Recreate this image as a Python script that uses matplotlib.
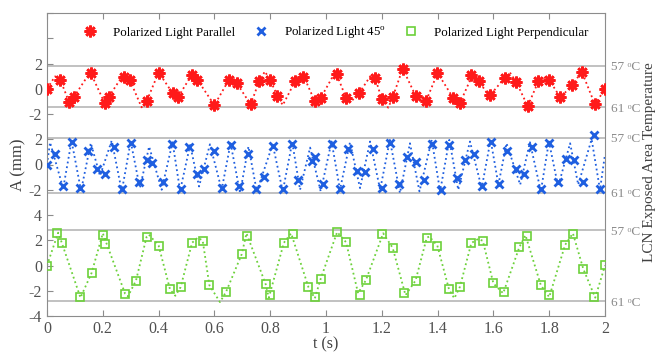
import numpy as np
import matplotlib
matplotlib.use("Agg")
import matplotlib.pyplot as plt

plt.rcParams['font.family'] = ['Liberation Serif', 'DejaVu Serif']
plt.rcParams['mathtext.fontset'] = 'custom'
plt.rcParams['mathtext.rm'] = 'Liberation Serif'

# offsets of the three stacked traces on the shared axis
off_par, off_45, off_perp = 14, 8, 0

# measured points (markers)
t_par = [0, 0.048, 0.078, 0.097, 0.157, 0.207, 0.221, 0.277, 0.297, 0.358, 0.400, 0.450, 0.471,
         0.519, 0.539, 0.600, 0.652, 0.680, 0.730, 0.760, 0.799, 0.826, 0.889, 0.919, 0.959, 0.981,
         1.038, 1.072, 1.119, 1.177, 1.200, 1.239, 1.275, 1.321, 1.359, 1.399, 1.456, 1.480, 1.521,
         1.547, 1.588, 1.640, 1.682, 1.723, 1.761, 1.800, 1.839, 1.881, 1.917, 1.964, 2.0]
a_par = [0, 0.69, -1.03, -0.63, 1.24, -1.10, -0.66, 0.92, 0.69, -0.95, 1.21, -0.34, -0.63,
         1.11, 0.71, -1.26, 0.71, 0.45, -1.21, 0.58, 0.71, -0.55, 0.58, 0.95, -0.95, -0.73,
         1.16, -0.73, -0.34, 0.82, -0.84, -0.68, 1.55, -0.55, -0.95, 1.21, -0.73, -1.10, 1.05,
         0.63, -0.53, 0.85, 0.53, -1.34, 0.58, 0.71, -0.63, 0.26, 1.29, -1.21, 0.0]

t_45 = [0, 0.029, 0.058, 0.088, 0.118, 0.148, 0.178, 0.209, 0.240, 0.270, 0.300, 0.329, 0.360,
        0.376, 0.417, 0.448, 0.479, 0.510, 0.539, 0.563, 0.599, 0.628, 0.659, 0.689, 0.719, 0.749,
        0.779, 0.809, 0.845, 0.878, 0.901, 0.949, 0.961, 0.988, 1.020, 1.050, 1.080, 1.110, 1.140,
        1.170, 1.200, 1.229, 1.262, 1.291, 1.321, 1.351, 1.381, 1.411, 1.441, 1.471, 1.499, 1.530,
        1.560, 1.590, 1.620, 1.650, 1.680, 1.710, 1.740, 1.770, 1.799, 1.831, 1.860, 1.890, 1.920,
        1.961, 1.982]
a_45 = [0, 0.85, -1.68, 1.76, -1.87, 1.03, -0.37, -0.77, 1.37, -1.98, 1.68, -1.42, 0.37,
        0.08, -1.42, 1.60, -1.95, 1.37, -0.77, -0.34, 1.03, -1.87, 1.56, -1.74, 0.82, -1.98,
        -1.00, 1.50, -1.95, 1.60, -1.21, 0.29, 0.63, -1.56, 1.60, -1.95, 1.24, -0.50, -0.61,
        1.24, -1.87, 1.74, -1.56, 0.63, 0.16, -1.21, 1.60, -2.00, 1.56, -1.03, 0.37, 0.82,
        -1.74, 1.82, -1.56, 1.08, -0.34, -0.77, 1.42, -1.95, 1.68, -1.42, 0.45, 0.37, -1.40,
        2.35, -1.95]

t_perp = [0, 0.037, 0.053, 0.118, 0.160, 0.200, 0.208, 0.280, 0.319, 0.357, 0.400, 0.441, 0.479,
          0.520, 0.558, 0.582, 0.642, 0.698, 0.718, 0.784, 0.799, 0.849, 0.880, 0.937, 0.961, 0.981,
          1.038, 1.072, 1.122, 1.143, 1.200, 1.239, 1.280, 1.321, 1.361, 1.399, 1.441, 1.480, 1.521,
          1.562, 1.600, 1.639, 1.693, 1.722, 1.770, 1.800, 1.857, 1.884, 1.922, 1.962, 2.0]
a_perp = [0, 2.58, 1.80, -2.47, -0.58, 2.45, 1.71, -2.24, -1.19, 2.27, 1.58, -1.90, -1.71,
          1.80, 1.98, -1.56, -2.08, 0.90, 2.37, -1.50, -2.37, 1.80, 2.53, -1.71, -2.47, -1.05,
          2.63, 1.84, -2.37, -1.16, 2.53, 1.40, -2.21, -1.19, 2.19, 1.58, -1.90, -1.69, 1.78,
          1.96, -1.42, -2.08, 1.45, 2.32, -1.56, -2.37, 1.63, 2.53, -0.26, -2.47, 0.03]

# dotted model curves: turning points
tc_par = [0, 0.029, 0.080, 0.155, 0.207, 0.270, 0.339, 0.400, 0.470, 0.520, 0.600, 0.660, 0.730,
          0.781, 0.845, 0.920, 0.968, 1.030, 1.088, 1.160, 1.223, 1.275, 1.350, 1.400, 1.480, 1.525,
          1.585, 1.659, 1.723, 1.780, 1.840, 1.917, 1.964, 2.0]
ac_par = [0, 0.98, -1.10, 1.32, -1.15, 1.00, -1.47, 1.30, -0.65, 1.15, -1.30, 0.80, -1.25,
          1.37, -1.30, 1.00, -1.00, 1.20, -1.06, 1.03, -1.50, 1.60, -1.00, 1.25, -1.15, 1.10,
          -0.60, 1.29, -1.38, 0.90, -0.70, 1.35, -1.25, 0.0]

tc_45 = [0, 0.011, 0.058, 0.088, 0.122, 0.157, 0.190, 0.232, 0.268, 0.300, 0.333, 0.366, 0.411,
         0.450, 0.477, 0.513, 0.545, 0.584, 0.626, 0.658, 0.692, 0.722, 0.752, 0.809, 0.845, 0.879,
         0.907, 0.943, 0.981, 1.020, 1.050, 1.086, 1.122, 1.158, 1.194, 1.229, 1.265, 1.301, 1.335,
         1.379, 1.409, 1.442, 1.474, 1.516, 1.558, 1.590, 1.618, 1.647, 1.696, 1.731, 1.770, 1.799,
         1.832, 1.875, 1.904, 1.952, 1.982, 2.0]
ac_45 = [0, 1.75, -1.90, 1.87, -2.08, 1.70, -0.90, 1.90, -2.13, 1.82, -1.87, 1.42, -2.00,
         1.76, -2.08, 1.55, -1.74, 1.60, -2.00, 1.68, -2.26, 1.42, -2.13, 1.60, -2.13, 1.76,
         -2.00, 1.34, -2.13, 1.82, -2.00, 1.76, -1.87, 1.82, -2.00, 1.95, -2.26, 1.68, -2.13,
         1.95, -2.13, 1.95, -2.00, 1.82, -1.87, 1.95, -1.60, 1.68, -1.60, 1.76, -2.13, 1.82,
         -1.74, 1.68, -1.60, 2.00, -2.00, 0.80]

tc_perp = [0, 0.040, 0.120, 0.200, 0.290, 0.365, 0.460, 0.540, 0.620, 0.715, 0.795, 0.875, 0.960,
           1.040, 1.115, 1.205, 1.285, 1.370, 1.460, 1.545, 1.635, 1.715, 1.800, 1.885, 1.965, 2.0]
ac_perp = [0, 2.60, -2.55, 2.55, -2.45, 2.45, -2.40, 2.20, -2.90, 2.55, -2.55, 2.55, -2.60,
           2.65, -2.20, 2.55, -2.35, 2.30, -2.60, 2.10, -2.20, 2.40, -2.50, 2.55, -2.55, 0.0]

# temperature reference lines (57 C top, 61 C bottom) in axis units
temp_lines = [15.83, 12.55, 10.10, 5.76, 2.81, -2.84]
temp_labels = ['57 \u1d52C', '61 \u1d52C'] * 3

yticks = np.arange(-4, 21, 2)
ytick_labels = ['-4', '-2', '0', '2', '4', '-2', '0', '2', '-2', '0', '2', '', '']


def curve(tc, ac, tm, am, gap=0.008):
    # the dotted curve runs through its turning points and the measured points
    pts = list(zip(tc, ac))
    for t, a in zip(tm, am):
        if min(abs(t - x) for x in tc) > gap:
            pts.append((t, a))
    pts.sort()
    return np.array(pts).T


red = '#ff1a1a'
blue = '#1f5fe0'
green = '#6cd13a'
gray = '#8c8c8c'

fig = plt.figure(figsize=(6.56, 3.54), dpi=100)
ax = fig.add_axes([47 / 656, 38 / 354, 558 / 656, 303 / 354])

for y in temp_lines:
    ax.axhline(y, color='#b0b0b0', lw=1.1, zorder=1)

x, y = curve(tc_par, ac_par, t_par, a_par)
ax.plot(x, y + off_par, ls=':', color=red, lw=1.3, zorder=2)
ax.plot(tc_45, np.array(ac_45) + off_45, ls=':', color=blue, lw=1.3, zorder=2)
x, y = curve(tc_perp, ac_perp, t_perp, a_perp)
ax.plot(x, y + off_perp, ls=':', color=green, lw=1.3, zorder=2)

ax.plot(t_par, np.array(a_par) + off_par, ls='none', marker=(8, 2, 0), ms=8.5, mew=1.9,
        color=red, label='Polarized Light Parallel', zorder=3)
ax.plot(t_45, np.array(a_45) + off_45, ls='none', marker='x', ms=5.5, mew=2,
        color=blue, label='Polarized Light 45$^{\\rm o}$', zorder=3)
ax.plot(t_perp, np.array(a_perp) + off_perp, ls='none', marker='s', ms=6, mew=1.2,
        mfc='none', color=green, label='Polarized Light Perpendicular', zorder=3)

ax.set_xlim(0, 2)
ax.set_ylim(-4, 20)
ax.set_xticks(np.arange(0, 2.01, 0.2))
ax.set_xticklabels(['0', '0.2', '0.4', '0.6', '0.8', '1', '1.2', '1.4', '1.6', '1.8', '2'])
ax.set_yticks(yticks)
ax.set_yticklabels(ytick_labels)
ax.tick_params(direction='in', top=True, right=True, length=4, color=gray,
               labelsize=11.5, labelcolor='#505050')
for s in ax.spines.values():
    s.set_color(gray)

ax2 = ax.twinx()
ax2.set_ylim(ax.get_ylim())
ax2.set_yticks(temp_lines)
ax2.set_yticklabels(temp_labels)
ax2.tick_params(length=0, pad=4, labelsize=9.5, labelcolor='#8a8a8a')
for s in ax2.spines.values():
    s.set_visible(False)

ax.set_xlabel('t (s)', fontsize=11.5, color='#404040', labelpad=0)
ax.set_ylabel('A (mm)', fontsize=12, color='#404040', labelpad=2)
fig.text(649 / 656, 1 - 162 / 354, 'LCN Exposed Area Temperature', rotation=90,
         ha='center', va='center', fontsize=11, color='#404040')

ax.legend(loc='upper center', bbox_to_anchor=(0.518, 1.0), ncol=3, frameon=False,
          fontsize=9.3, handletextpad=1.28, columnspacing=1.44, handlelength=1.0)

fig.savefig('out.png', dpi=100)
